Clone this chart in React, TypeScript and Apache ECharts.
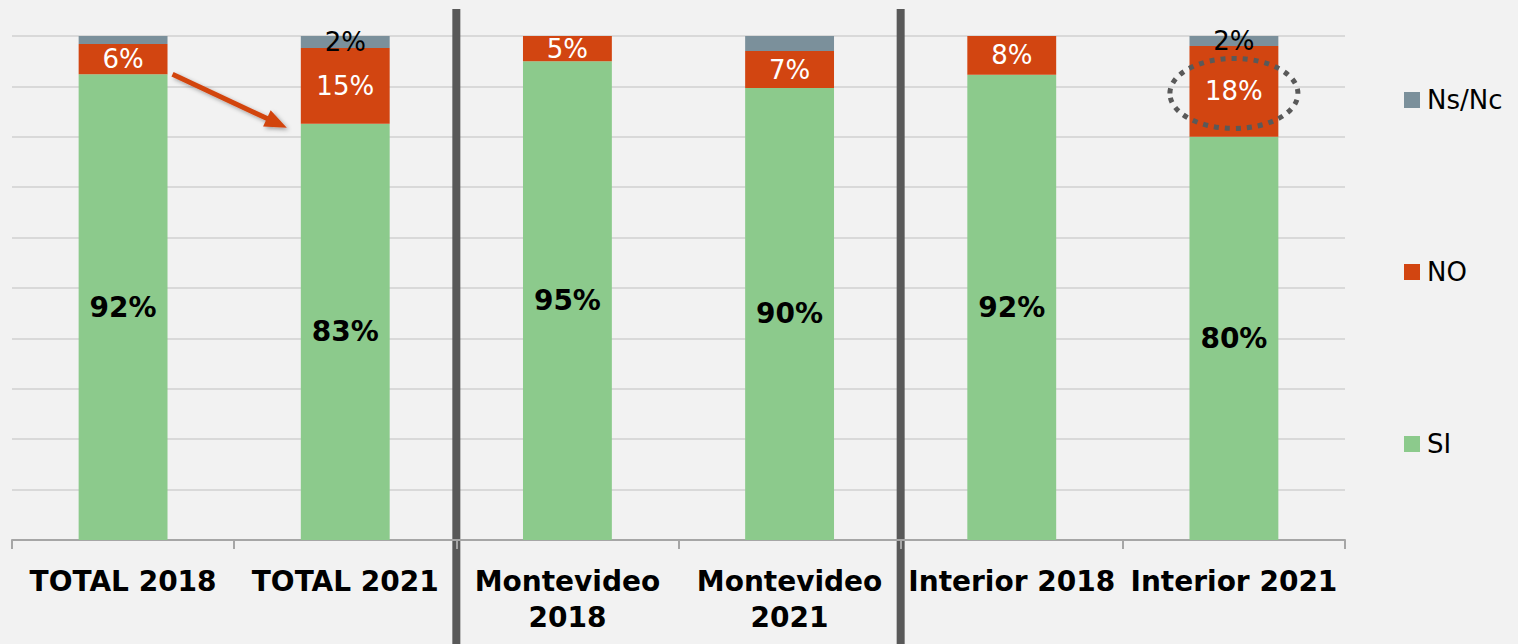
import React, { useEffect, useRef } from "react";
import * as echarts from "echarts";

const categories = ["TOTAL 2018", "TOTAL 2021", "Montevideo\n2018", "Montevideo\n2021", "Interior 2018", "Interior 2021"];
const siValues = [92.4, 82.6, 95.0, 89.7, 92.3, 80.0];
const noValues = [6.0, 15.0, 5.0, 7.3, 7.7, 18.0];
const nsValues = [1.6, 2.4, 0, 3.0, 0, 2.0];
const nsLabelShown = [false, true, false, false, false, true];
const yTicks = [0, 10, 20, 30, 40, 50, 60, 70, 80, 90, 100];

const GREEN = "#8cca8c";
const ORANGE = "#d24511";
const GRAY = "#7b909b";
const FONT = "DejaVu Sans";

export default function App() {
  const ref = useRef<HTMLDivElement>(null);
  useEffect(() => {
    if (!ref.current) return;
    const chart = echarts.init(ref.current, null, { renderer: "svg" });
    const pct = (v: number) => Math.round(v) + "%";
    chart.setOption({
      animation: false,
      backgroundColor: "#f2f2f2",
      textStyle: { fontFamily: FONT },
      grid: { left: 12, right: 173, top: 36, bottom: 104, containLabel: false },
      legend: {
        orient: "vertical",
        left: 1399,
        top: 82,
        itemWidth: 16,
        itemHeight: 16,
        itemGap: 146,
        icon: "rect",
        data: ["Ns/Nc", "NO", "SI"],
        textStyle: { fontSize: 26, color: "#000", fontFamily: FONT, padding: [0, 0, 0, 2] },
      },
      xAxis: {
        type: "category",
        data: categories,
        axisLine: { lineStyle: { color: "#a6a6a6", width: 2 } },
        axisTick: { show: true, length: 9, lineStyle: { color: "#a6a6a6", width: 2 } },
        axisLabel: {
          interval: 0,
          fontSize: 28,
          fontWeight: "bold",
          color: "#000",
          lineHeight: 36,
          margin: 23,
          fontFamily: FONT,
        },
      },
      yAxis: {
        type: "value",
        min: yTicks[0],
        max: yTicks[yTicks.length - 1],
        interval: 10,
        axisLabel: { show: false },
        axisLine: { show: false },
        axisTick: { show: false },
        splitLine: { lineStyle: { color: "#d9d9d9", width: 2 } },
      },
      series: [
        {
          name: "SI",
          type: "bar",
          stack: "t",
          barWidth: "40%",
          itemStyle: { color: GREEN },
          data: siValues,
          label: {
            show: true,
            position: "inside",
            fontSize: 28,
            fontWeight: "bold",
            color: "#000",
            fontFamily: FONT,
            formatter: (p: any) => pct(p.value),
          },
        },
        {
          name: "NO",
          type: "bar",
          stack: "t",
          barWidth: "40%",
          itemStyle: { color: ORANGE },
          data: noValues,
          label: {
            show: true,
            position: "inside",
            fontSize: 26,
            color: "#fff",
            fontFamily: FONT,
            formatter: (p: any) => pct(p.value),
          },
        },
        {
          name: "Ns/Nc",
          type: "bar",
          stack: "t",
          barWidth: "40%",
          itemStyle: { color: GRAY },
          data: nsValues.map((v, i) => ({
            value: v,
            label: { show: nsLabelShown[i] },
          })),
          label: {
            position: "inside",
            fontSize: 26,
            color: "#000",
            fontFamily: FONT,
            formatter: (p: any) => pct(p.value),
          },
        },
      ],
    });

    const px = (i: number, v: number) => chart.convertToPixel({ gridIndex: 0 }, [i, v]) as number[];
    const halfBar = (px(1, 0)[0] - px(0, 0)[0]) * 0.2;
    const sep1 = (px(1, 0)[0] + px(2, 0)[0]) / 2;
    const sep2 = (px(3, 0)[0] + px(4, 0)[0]) / 2;
    const start = [px(0, 0)[0] + halfBar + 5, px(0, siValues[0])[1]];
    const end = [px(1, 0)[0] - halfBar - 14, px(1, siValues[1])[1] + 4];
    const dx = end[0] - start[0];
    const dy = end[1] - start[1];
    const len = Math.sqrt(dx * dx + dy * dy);
    const ux = dx / len, uy = dy / len;
    const headLen = 22, headW = 9;
    const base = [end[0] - ux * headLen, end[1] - uy * headLen];
    const ellC = px(5, siValues[5] + noValues[5] / 2);

    chart.setOption({
      graphic: [
        { type: "line", shape: { x1: sep1, y1: 9, x2: sep1, y2: 644 }, style: { stroke: "#595959", lineWidth: 8 } },
        { type: "line", shape: { x1: sep2, y1: 9, x2: sep2, y2: 644 }, style: { stroke: "#595959", lineWidth: 8 } },
        {
          type: "line",
          shape: { x1: start[0], y1: start[1], x2: base[0] + ux * 2, y2: base[1] + uy * 2 },
          style: { stroke: ORANGE, lineWidth: 5, shadowBlur: 4, shadowColor: "rgba(0,0,0,0.35)", shadowOffsetX: 2, shadowOffsetY: 2 },
        },
        {
          type: "polygon",
          shape: {
            points: [
              [end[0], end[1]],
              [base[0] - uy * headW, base[1] + ux * headW],
              [base[0] + uy * headW, base[1] - ux * headW],
            ],
          },
          style: { fill: ORANGE, shadowBlur: 4, shadowColor: "rgba(0,0,0,0.35)", shadowOffsetX: 2, shadowOffsetY: 2 },
        },
        {
          type: "ellipse",
          shape: { cx: ellC[0], cy: ellC[1] + 2, rx: 64, ry: 35 },
          style: { fill: "none", stroke: "#595959", lineWidth: 5, lineDash: [5, 6] },
          z: 100,
        },
      ],
    });
    return () => chart.dispose();
  }, []);
  return (
    <div
      ref={ref}
      style={{ position: "fixed", left: 0, top: 0, width: 1518, height: 644, background: "#f2f2f2" }}
    />
  );
}
